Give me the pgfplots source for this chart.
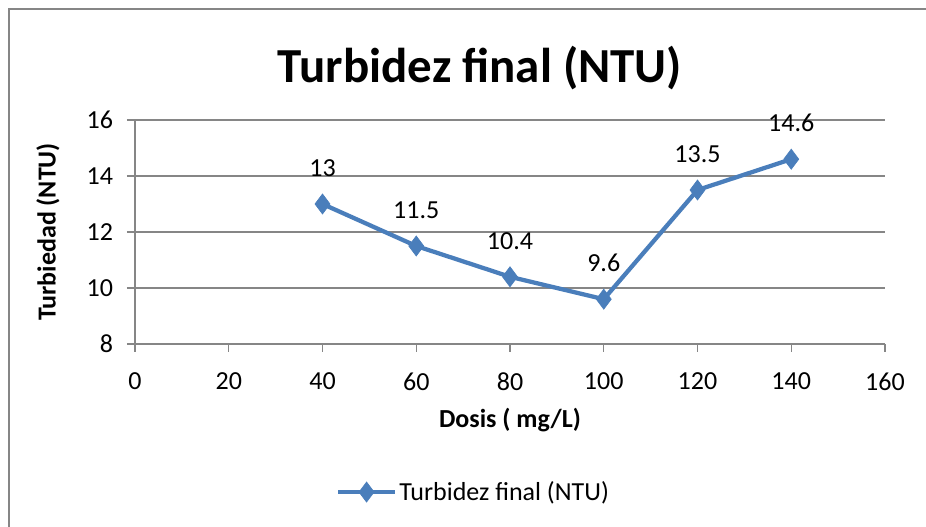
\documentclass[border=0pt]{standalone}
\usepackage{pgfplots}
\pgfplotsset{compat=1.18}
\usepackage{fontspec}
\setmainfont{Carlito}
\definecolor{serblue}{RGB}{74,126,187}
\definecolor{axgray}{RGB}{134,134,134}
\begin{document}
\begin{tikzpicture}[x=0.75pt,y=0.75pt]
\useasboundingbox (0,0) rectangle (926,527);
\coordinate (A) at (135,183);
\draw[axgray,line width=1pt] (9,0) -- (9,518) -- (926,518);
\node[font=\fontsize{36.7}{40}\selectfont\bfseries] at (480,459) {Turbidez final (NTU)};
\begin{axis}[
  at={(A)}, anchor=south west,
  scale only axis, width=562.5pt, height=168pt,
  xmin=0, xmax=160, ymin=8, ymax=16,
  xtick={0,20,...,160}, ytick={8,10,...,16},
  axis x line*=bottom, axis y line*=left,
  axis line style={axgray, line width=1pt},
  ymajorgrids, grid style={axgray, line width=0.9pt},
  tick style={axgray, line width=1pt},
  major tick length=6pt,
  xtick align=outside, ytick align=outside,
  /pgf/number format/assume math mode=true,
  tick label style={font=\fontsize{19.5}{22}\selectfont},
  xticklabel style={yshift=-12pt},
  yticklabel style={xshift=-7pt},
  xlabel={Dosis ( mg/L)}, ylabel={Turbiedad (NTU)},
  label style={font=\fontsize{19.5}{22}\selectfont\bfseries},
  xlabel style={at={(axis description cs:0.5,-0.339)}, anchor=center},
  ylabel style={at={(axis description cs:-0.116,0.5)}, anchor=center},
  legend style={at={(axis description cs:0.452,-0.661)}, anchor=center, draw=none, font=\fontsize{19.5}{22}\selectfont, fill=none},
  legend image code/.code={\draw[mark repeat=2,mark phase=2] plot coordinates {(0cm,0cm)(0.74cm,0cm)(1.48cm,0cm)};},
  clip=false,
]
\addplot[serblue, line width=3.2pt, mark=diamond*, mark size=7.5pt, mark options={fill=serblue, line width=0.5pt},
  nodes near coords, point meta=explicit symbolic,
  every node near coord/.style={anchor=center, yshift=27pt, font=\fontsize{19.5}{22}\selectfont, text=black}]
  table[meta=lab] {
x y lab
40 13 13
60 11.5 11.5
80 10.4 10.4
100 9.6 9.6
120 13.5 13.5
140 14.6 14.6
};
\addlegendentry{Turbidez final (NTU)}
\end{axis}
\end{tikzpicture}
\end{document}
